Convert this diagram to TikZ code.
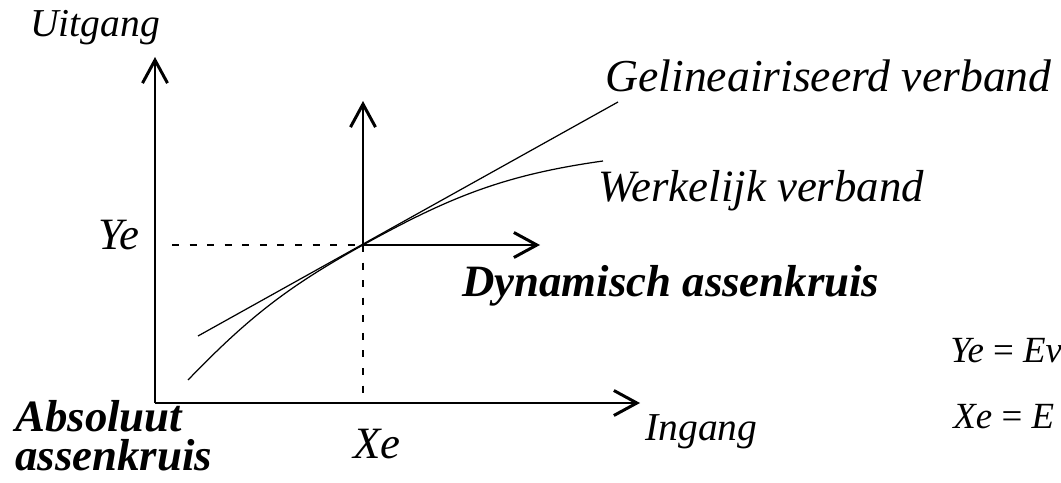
\documentclass[tikz,border=0pt]{standalone}
\usepackage{fontspec}
\setmainfont{Liberation Serif}[ItalicFont={Liberation Serif Italic}, BoldItalicFont={Liberation Serif Bold Italic}]
\usetikzlibrary{arrows.meta,positioning}

\begin{document}
\begin{tikzpicture}[
    axis/.style={-{Straight Barb[length=0.46cm,width=0.5cm,line width=1.7pt]}, line width=1.2pt},
    graph/.style={line width=0.7pt},
    guide/.style={dash pattern=on 4pt off 6pt, line width=0.8pt},
    lbl/.style={font=\fontsize{25.5}{30}\selectfont\itshape, inner sep=0pt},
    blbl/.style={font=\fontsize{25.5}{22}\selectfont\bfseries\itshape, inner sep=0pt, align=left},
    axlbl/.style={font=\fontsize{22.5}{27}\selectfont\itshape, inner sep=0pt},
    eqlbl/.style={font=\fontsize{21}{25}\selectfont, inner sep=0pt}
]
\useasboundingbox (0,0) rectangle (21.22,9.64);

% absolute and dynamic origins
\coordinate (o) at (3.10,1.58);
\coordinate (ytip) at (3.10,8.50);
\coordinate (xtip) at (12.80,1.58);
\coordinate (e) at (7.26,4.74);
\coordinate (dytip) at (7.26,7.62);
\coordinate (dxtip) at (10.80,4.74);
\coordinate (ye) at (3.44,4.74);
\coordinate (xe) at (7.26,1.58);

% curves
\coordinate (lin1) at (3.96,2.92);
\coordinate (lin2) at (12.36,7.60);
\coordinate (real1) at (3.76,2.04);
\coordinate (real2) at (12.06,6.42);

\draw[axis] (o) -- (ytip);
\draw[axis] (o) -- (xtip);
\draw[axis] (e) -- (dytip);
\draw[axis] (e) -- (dxtip);
\draw[guide] (ye) -- (e);
\draw[guide] (e) -- (xe);

\draw[graph] (lin1) -- (lin2);
\draw[graph] (real1) to[out=46,in=209] (e) to[out=29,in=188] (real2);

% labels
\node[axlbl, anchor=base west] (uit) at (0.60,8.90) {Uitgang};
\node[axlbl, anchor=base west] (in) at (12.90,0.84) {Ingang};
\node[lbl, anchor=base west] (yel) at (1.96,4.64) {Ye};
\node[lbl, anchor=base west] (xel) at (7.06,0.48) {Xe};
\node[lbl, anchor=base west, font=\fontsize{26}{30}\selectfont\itshape] (gel) at (12.10,7.80) {Gelineairiseerd verband};
\node[lbl, anchor=base west] (wer) at (11.96,5.60) {Werkelijk verband};
\node[blbl, anchor=base west] (dyn) at (9.24,3.70) {Dynamisch assenkruis};
\node[blbl, anchor=north west] (abs) at (0.30,1.64) {Absoluut\\assenkruis};
\node[eqlbl, anchor=base west] (eqy) at (19.00,2.40) {\textit{Ye} = \textit{Ev}};
\node[eqlbl, anchor=base west] (eqx) at (19.06,1.08) {\textit{Xe} = \textit{E}};
\end{tikzpicture}
\end{document}
